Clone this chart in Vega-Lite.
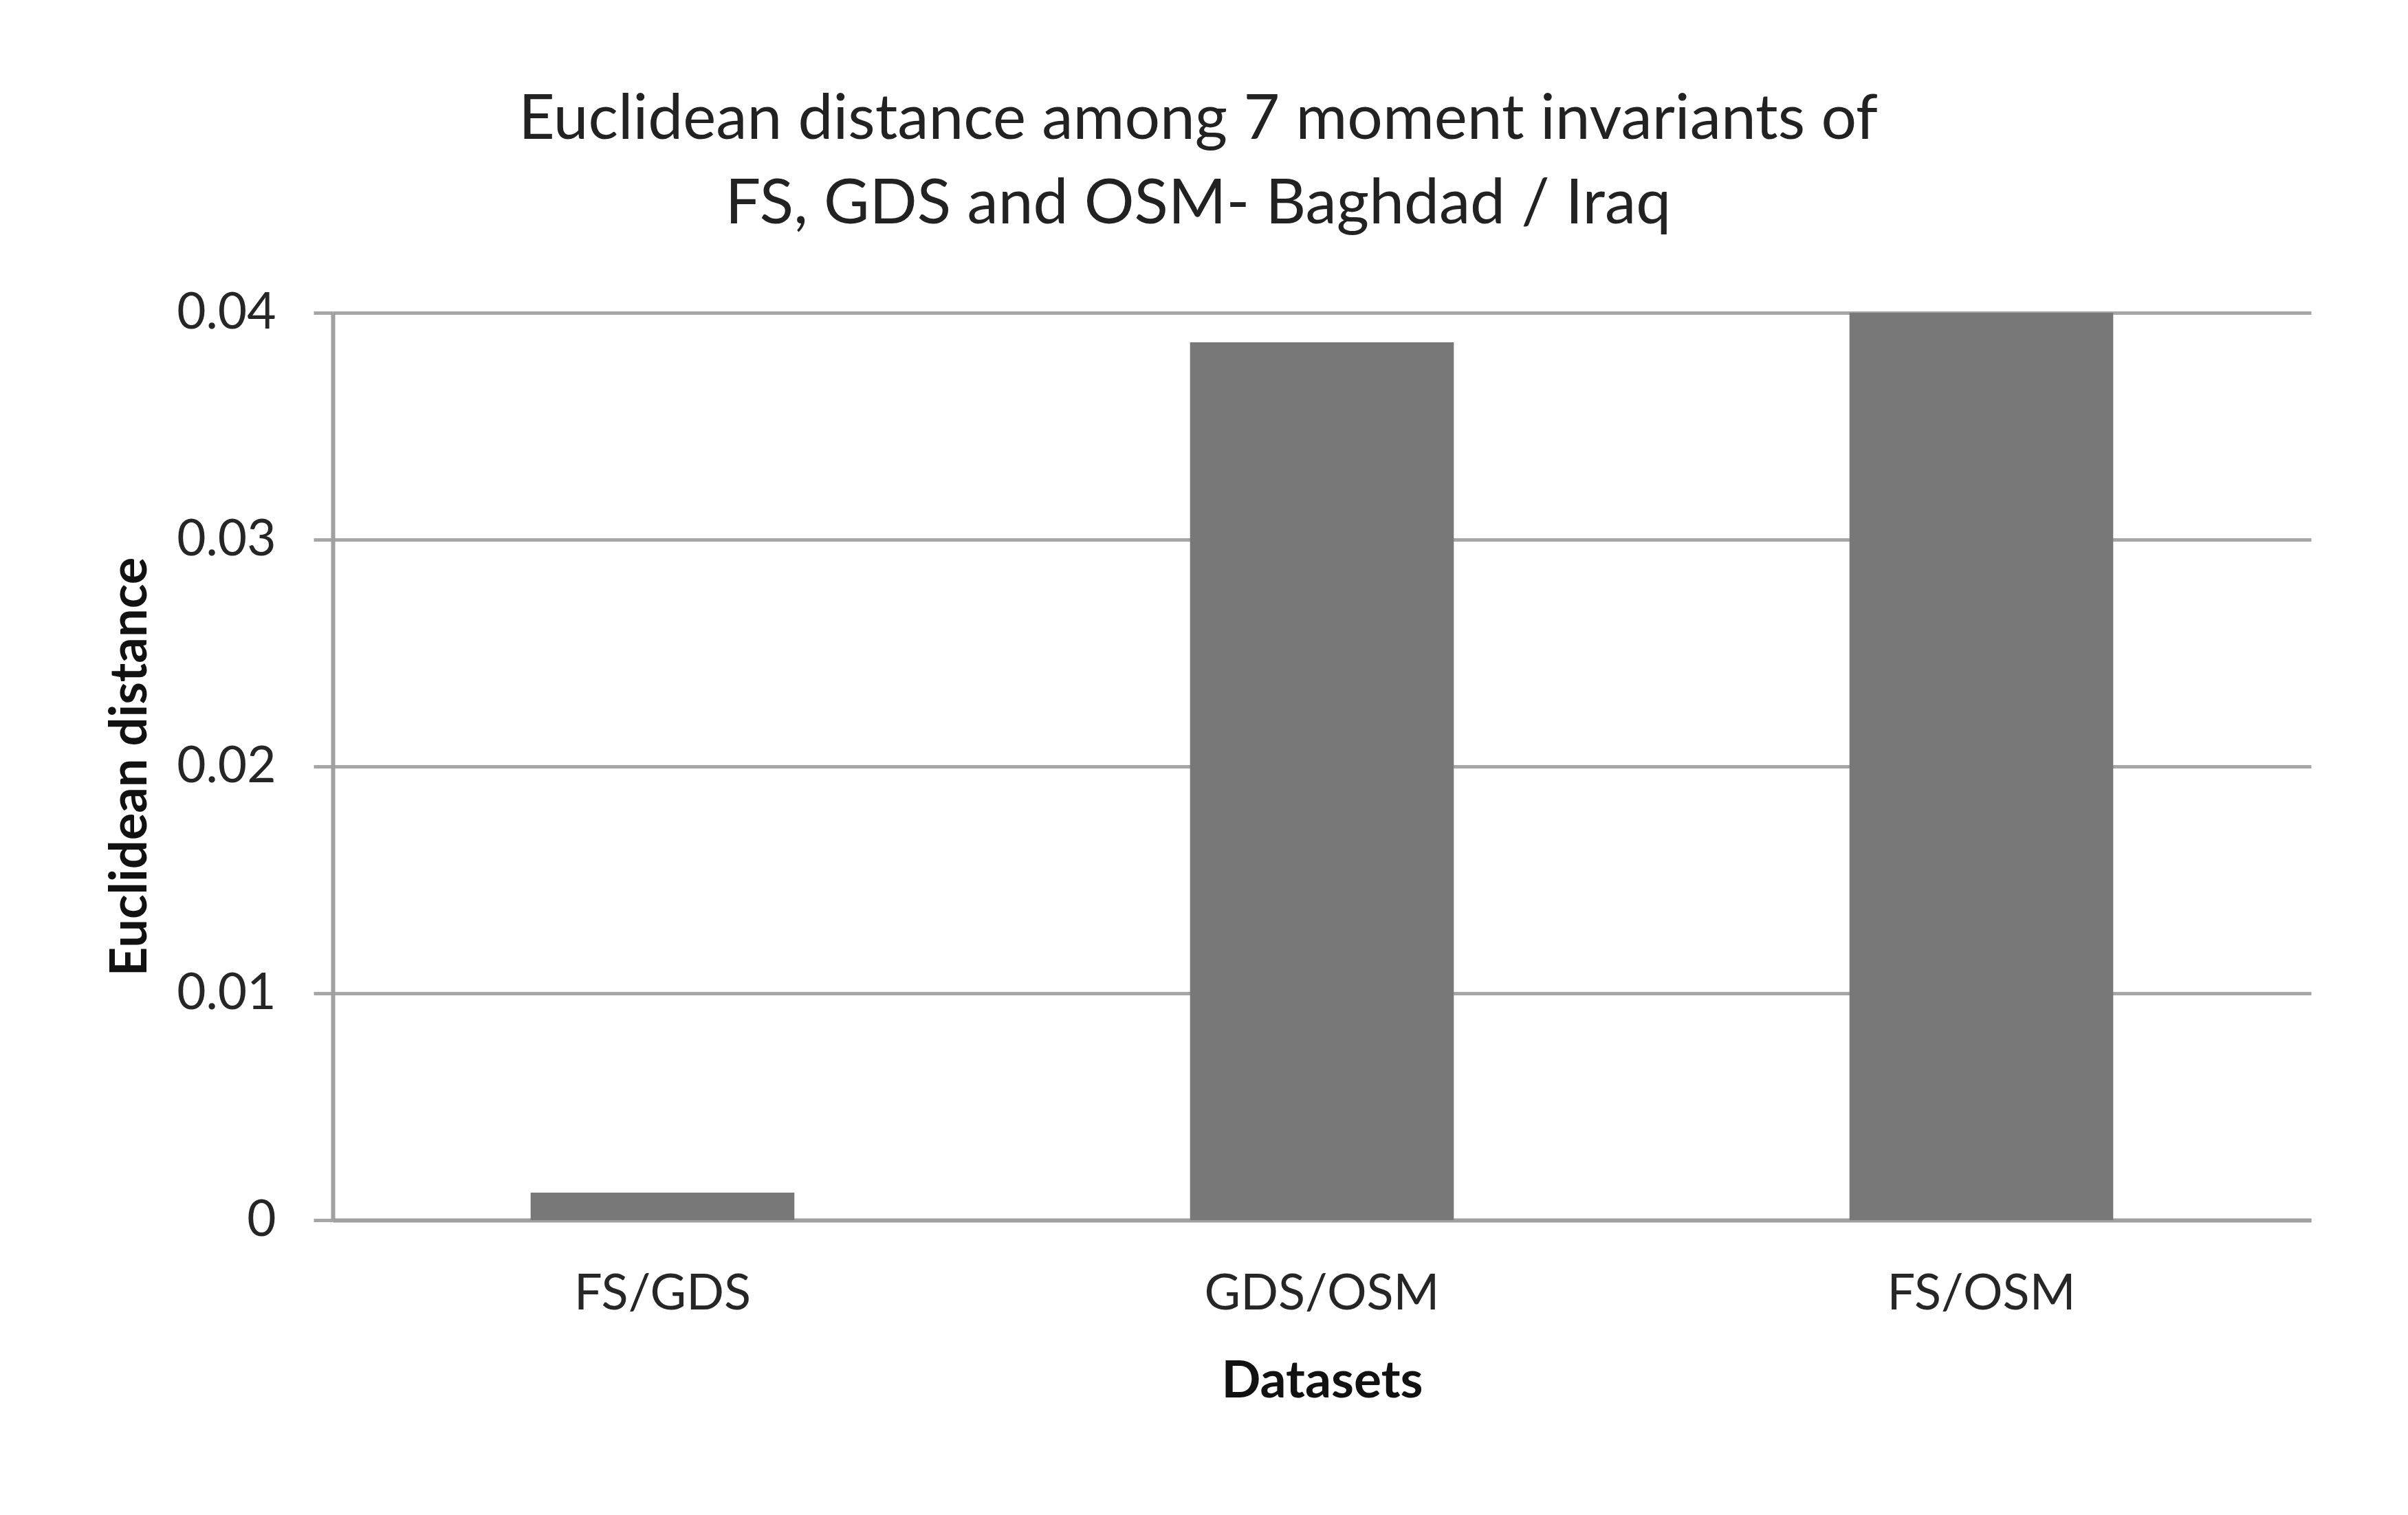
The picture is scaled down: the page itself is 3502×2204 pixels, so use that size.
{
  "$schema": "https://vega.github.io/schema/vega-lite/v6.json",
  "width": 2877,
  "height": 1320,
  "autosize": {"type": "none"},
  "padding": {"left": 484, "top": 455, "right": 141, "bottom": 429},
  "background": "white",
  "title": {
    "text": ["Euclidean distance among 7 moment invariants of", "FS, GDS and OSM- Baghdad / Iraq"],
    "font": "Lato",
    "fontSize": 91,
    "fontWeight": "normal",
    "color": "#222222",
    "lineHeight": 123,
    "anchor": "middle",
    "frame": "group",
    "dx": -180,
    "baseline": "bottom",
    "offset": -16
  },
  "data": {
    "values": [
      {"pair": "FS/GDS", "distance": 0.00121},
      {"pair": "GDS/OSM", "distance": 0.0387},
      {"pair": "FS/OSM", "distance": 0.04}
    ]
  },
  "mark": {"type": "bar", "color": "#787878", "clip": false},
  "encoding": {
    "x": {
      "field": "pair",
      "type": "nominal",
      "sort": null,
      "scale": {"paddingInner": 0.6, "paddingOuter": 0.3},
      "axis": {
        "title": "Datasets",
        "labelAngle": 0,
        "labelLimit": 0,
        "labelFont": "Lato",
        "labelFontSize": 72,
        "labelColor": "#262626",
        "labelPadding": 72,
        "ticks": false,
        "tickSize": 0,
        "domainColor": "#a0a0a0",
        "domainWidth": 6,
        "titleFont": "Lato",
        "titleFontSize": 75,
        "titleFontWeight": "bold",
        "titleColor": "#111111",
        "titlePadding": 55,
        "grid": false
      }
    },
    "y": {
      "field": "distance",
      "type": "quantitative",
      "scale": {"domain": [0, 0.04], "nice": false},
      "axis": {
        "title": "Euclidean distance",
        "values": [0, 0.01, 0.02, 0.03, 0.04],
        "format": ".2~f",
        "labelFont": "Lato",
        "labelFontSize": 73,
        "labelColor": "#262626",
        "labelPadding": 55,
        "tickSize": 28,
        "tickColor": "#a6a6a6",
        "tickWidth": 5,
        "domainColor": "#a0a0a0",
        "domainWidth": 6,
        "grid": true,
        "gridColor": "#a6a6a6",
        "gridWidth": 5,
        "titleFont": "Lato",
        "titleFontSize": 74,
        "titleFontWeight": "bold",
        "titleColor": "#111111",
        "titlePadding": 56
      }
    }
  },
  "config": {
    "view": {"stroke": null}
  }
}
